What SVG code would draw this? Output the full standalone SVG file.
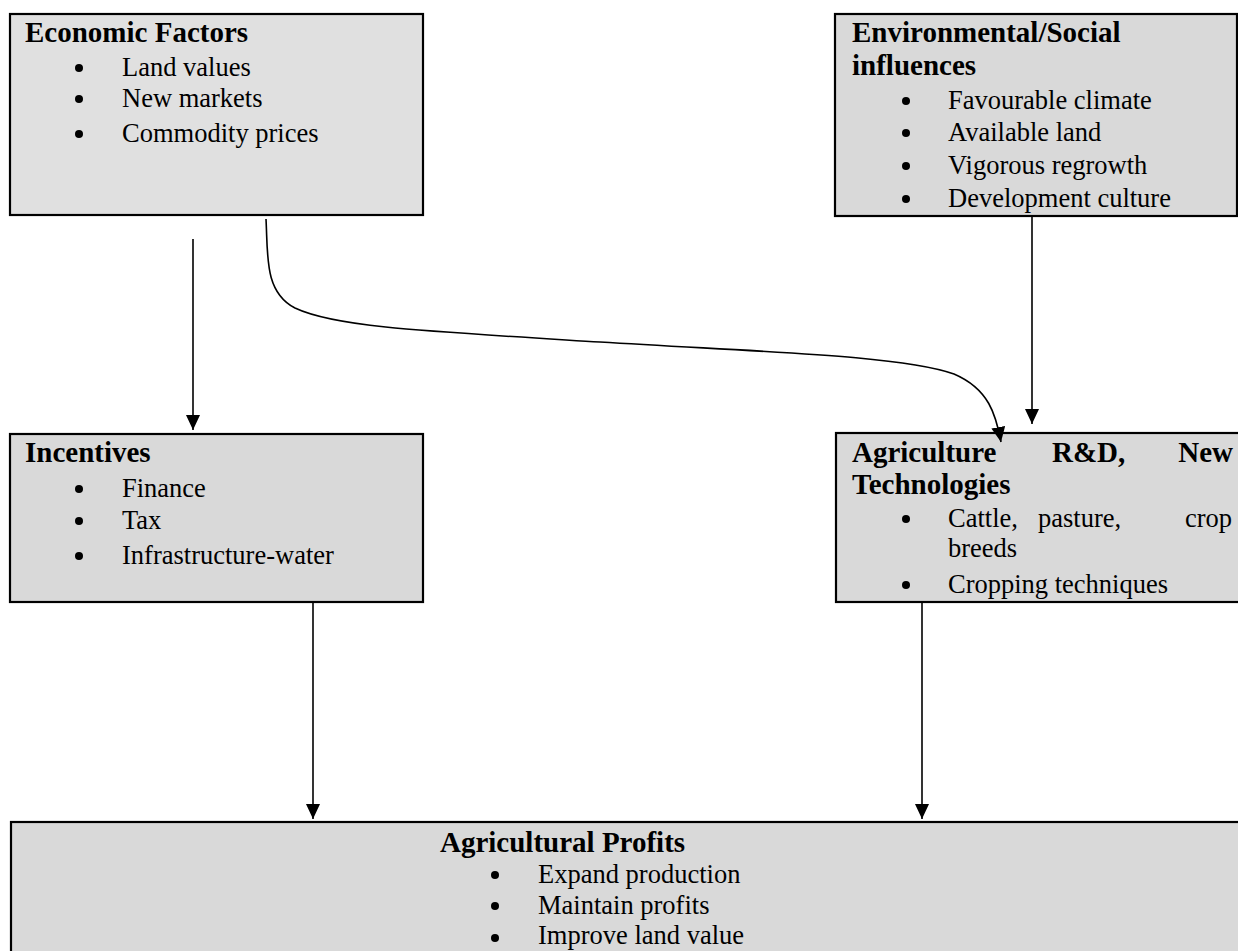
<svg xmlns="http://www.w3.org/2000/svg" width="1238" height="951" viewBox="0 0 1238 951">
<defs>
<style>
.box{fill:#d9d9d9;stroke:#000;stroke-width:2.2}
.box2{fill:#e0e0e0;stroke:#000;stroke-width:2.2}
.h{font-family:"Liberation Serif","Times New Roman",serif;font-weight:bold;font-size:29px;fill:#000}
.t{font-family:"Liberation Serif","Times New Roman",serif;font-size:26.5px;fill:#000}
.conn{fill:none;stroke:#000;stroke-width:1.6}
</style>
<marker id="ah" markerUnits="userSpaceOnUse" markerWidth="16" markerHeight="15" refX="15" refY="7" orient="auto" viewBox="0 0 16 15">
<path d="M0,0 L15,7 L0,14 Z" fill="#000"/>
</marker>
</defs>
<rect width="1238" height="951" fill="#fff"/>

<g id="economic">
<rect class="box2" x="10" y="14" width="413" height="201"/>
<text class="h" x="25" y="42">Economic Factors</text>
<circle cx="79" cy="68" r="4"/><text class="t" x="122" y="76">Land values</text>
<circle cx="79" cy="99" r="4"/><text class="t" x="122" y="107">New markets</text>
<circle cx="79" cy="134" r="4"/><text class="t" x="122" y="142">Commodity prices</text>
</g>

<g id="environmental">
<rect class="box" x="835" y="14" width="402" height="202"/>
<text class="h" x="852" y="42">Environmental/Social</text>
<text class="h" x="852" y="75">influences</text>
<circle cx="906" cy="101" r="4"/><text class="t" x="948" y="109">Favourable climate</text>
<circle cx="906" cy="133" r="4"/><text class="t" x="948" y="141">Available land</text>
<circle cx="906" cy="166" r="4"/><text class="t" x="948" y="174">Vigorous regrowth</text>
<circle cx="906" cy="199" r="4"/><text class="t" x="948" y="207">Development culture</text>
</g>

<g id="incentives">
<rect class="box" x="10" y="434" width="413" height="168"/>
<text class="h" x="25" y="462">Incentives</text>
<circle cx="79" cy="489" r="4"/><text class="t" x="122" y="497">Finance</text>
<circle cx="79" cy="521" r="4"/><text class="t" x="122" y="529">Tax</text>
<circle cx="79" cy="556" r="4"/><text class="t" x="122" y="564">Infrastructure-water</text>
</g>

<g id="agri-rd">
<rect class="box" x="836" y="433" width="410" height="169"/>
<text class="h" x="852" y="462">Agriculture</text>
<text class="h" x="1052" y="462">R&amp;D,</text>
<text class="h" x="1233" y="462" text-anchor="end">New</text>
<text class="h" x="852" y="494">Technologies</text>
<circle cx="906" cy="519" r="4"/>
<text class="t" x="948" y="527">Cattle,</text>
<text class="t" x="1038" y="527">pasture,</text>
<text class="t" x="1232" y="527" text-anchor="end">crop</text>
<text class="t" x="948" y="557">breeds</text>
<circle cx="906" cy="585" r="4"/><text class="t" x="948" y="593">Cropping techniques</text>
</g>

<g id="profits">
<rect class="box" x="11" y="822" width="1240" height="140"/>
<text class="h" x="440" y="852">Agricultural Profits</text>
<circle cx="495" cy="875" r="4"/><text class="t" x="538" y="883">Expand production</text>
<circle cx="495" cy="906" r="4"/><text class="t" x="538" y="914">Maintain profits</text>
<circle cx="495" cy="938" r="4"/><text class="t" x="538" y="944">Improve land value</text>
</g>

<g id="connectors">
<path class="conn" d="M193,239 L193,430" marker-end="url(#ah)"/>
<path class="conn" d="M266,219 C268,255 264,292 295,308 C335,327 420,331 600,342 C760,352 900,355 954,374 C989,389 996,415 1001,442" marker-end="url(#ah)"/>
<path class="conn" d="M1032,217 L1032,424" marker-end="url(#ah)"/>
<path class="conn" d="M313,602 L313,819" marker-end="url(#ah)"/>
<path class="conn" d="M922,602 L922,819" marker-end="url(#ah)"/>
</g>
</svg>
